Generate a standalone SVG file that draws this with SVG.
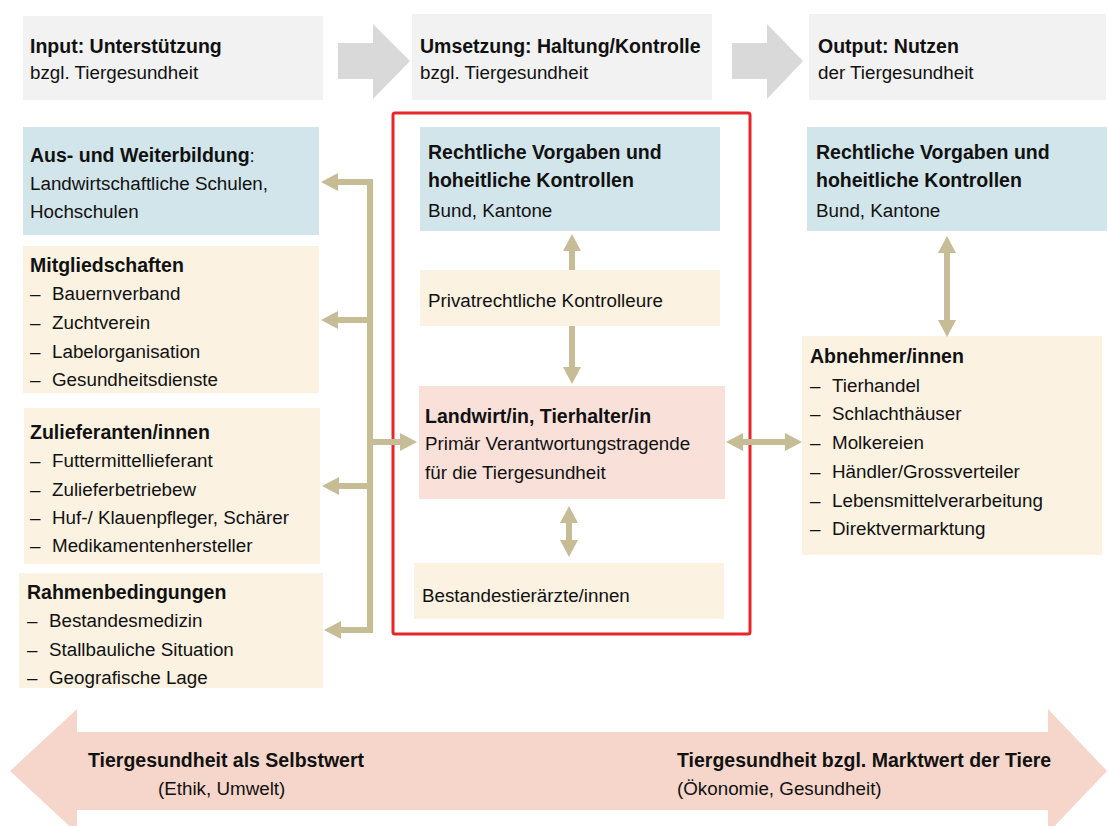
<svg xmlns="http://www.w3.org/2000/svg" width="1108" height="826" viewBox="0 0 1108 826">
<style>
text{font-family:"Liberation Sans",Arial,sans-serif;fill:#111}
.b{font-weight:bold;font-size:19.5px}
.r{font-size:18.8px}
.hdr{fill:#F2F2F2}
.blue{fill:#D2E5EA}
.beige{fill:#FBF2E1}
.pink{fill:#F9E0D9}
.garrow{fill:#D9D9D9}
.conn{fill:none;stroke:#C6BD97;stroke-width:6;stroke-linejoin:miter}
</style>
<defs>
<marker id="ah" markerUnits="userSpaceOnUse" markerWidth="18" markerHeight="18" refX="1" refY="9" orient="auto-start-reverse">
<path d="M0,0 L17,9 L0,18 z" fill="#C6BD97"/>
</marker>
</defs>
<rect width="1108" height="826" fill="#fff"/>

<g id="bottom-arrow">
<polygon points="10,771 77,709 77,732 1048,732 1048,709 1107,771 1048,833 1048,810 77,810 77,833" fill="#F6D6CA"/>
<text class="b" x="88" y="767">Tiergesundheit als Selbstwert</text>
<text class="r" x="158" y="795">(Ethik, Umwelt)</text>
<text class="b" x="677" y="767">Tiergesundheit bzgl. Marktwert der Tiere</text>
<text class="r" x="677" y="795">(Ökonomie, Gesundheit)</text>
</g>

<g id="header-input">
<rect class="hdr" x="23" y="16" width="300" height="84"/>
<text class="b" x="30" y="53">Input: Unterstützung</text>
<text class="r" x="30" y="79">bzgl. Tiergesundheit</text>
</g>
<g id="header-arrow-1"><polygon class="garrow" points="338,43 373,43 373,24 410,61 373,99 373,79 338,79"/></g>
<g id="header-umsetzung">
<rect class="hdr" x="412" y="14" width="300" height="86"/>
<text class="b" x="420" y="53">Umsetzung: Haltung/Kontrolle</text>
<text class="r" x="420" y="79">bzgl. Tiergesundheit</text>
</g>
<g id="header-arrow-2"><polygon class="garrow" points="732,43 767,43 767,24 803,61 767,99 767,79 732,79"/></g>
<g id="header-output">
<rect class="hdr" x="809" y="14" width="297" height="86"/>
<text class="b" x="818" y="53">Output: Nutzen</text>
<text class="r" x="818" y="79">der Tiergesundheit</text>
</g>

<g id="aus-weiterbildung">
<rect class="blue" x="23" y="127" width="296" height="108"/>
<text x="30" y="162"><tspan class="b">Aus- und Weiterbildung</tspan><tspan class="r">:</tspan></text>
<text class="r" x="30" y="190">Landwirtschaftliche Schulen,</text>
<text class="r" x="30" y="218">Hochschulen</text>
</g>

<g id="mitgliedschaften">
<rect class="beige" x="23" y="246" width="296" height="147"/>
<text class="b" x="30" y="272">Mitgliedschaften</text>
<text class="r" x="30" y="300">–</text><text class="r" x="52" y="300">Bauernverband</text>
<text class="r" x="30" y="329">–</text><text class="r" x="52" y="329">Zuchtverein</text>
<text class="r" x="30" y="358">–</text><text class="r" x="52" y="358">Labelorganisation</text>
<text class="r" x="30" y="386">–</text><text class="r" x="52" y="386">Gesundheitsdienste</text>
</g>

<g id="zulieferanten">
<rect class="beige" x="24" y="408" width="296" height="156"/>
<text class="b" x="30" y="439">Zulieferanten/innen</text>
<text class="r" x="30" y="467">–</text><text class="r" x="52" y="467">Futtermittellieferant</text>
<text class="r" x="30" y="496">–</text><text class="r" x="52" y="496">Zulieferbetriebew</text>
<text class="r" x="30" y="524">–</text><text class="r" x="52" y="524">Huf-/ Klauenpfleger, Schärer</text>
<text class="r" x="30" y="552">–</text><text class="r" x="52" y="552">Medikamentenhersteller</text>
</g>

<g id="rahmenbedingungen">
<rect class="beige" x="19" y="573" width="304" height="115"/>
<text class="b" x="27" y="599">Rahmenbedingungen</text>
<text class="r" x="27" y="627">–</text><text class="r" x="49" y="627">Bestandesmedizin</text>
<text class="r" x="27" y="656">–</text><text class="r" x="49" y="656">Stallbauliche Situation</text>
<text class="r" x="27" y="684">–</text><text class="r" x="49" y="684">Geografische Lage</text>
</g>

<g id="umsetzung-rahmen">
<rect x="393" y="113" width="357" height="521" rx="2" fill="none" stroke="#E8262A" stroke-width="3"/>
</g>

<g id="rechtliche-mitte">
<rect class="blue" x="420" y="127" width="300" height="104"/>
<text class="b" x="428" y="159">Rechtliche Vorgaben und</text>
<text class="b" x="428" y="187">hoheitliche Kontrollen</text>
<text class="r" x="428" y="217">Bund, Kantone</text>
</g>

<g id="privatrechtliche">
<rect class="beige" x="420" y="270" width="300" height="56"/>
<text class="r" x="428" y="307">Privatrechtliche Kontrolleure</text>
</g>

<g id="landwirt">
<rect class="pink" x="419" y="386" width="306" height="113"/>
<text class="b" x="425" y="423">Landwirt/in, Tierhalter/in</text>
<text class="r" x="425" y="450">Primär Verantwortungstragende</text>
<text class="r" x="425" y="479">für die Tiergesundheit</text>
</g>

<g id="bestandestieraerzte">
<rect class="beige" x="414" y="563" width="310" height="56"/>
<text class="r" x="422" y="602">Bestandestierärzte/innen</text>
</g>

<g id="rechtliche-rechts">
<rect class="blue" x="807" y="127" width="300" height="104"/>
<text class="b" x="816" y="159">Rechtliche Vorgaben und</text>
<text class="b" x="816" y="187">hoheitliche Kontrollen</text>
<text class="r" x="816" y="217">Bund, Kantone</text>
</g>

<g id="abnehmer">
<rect class="beige" x="802" y="336" width="300" height="219"/>
<text class="b" x="810" y="363">Abnehmer/innen</text>
<text class="r" x="810" y="392">–</text><text class="r" x="832" y="392">Tierhandel</text>
<text class="r" x="810" y="420">–</text><text class="r" x="832" y="420">Schlachthäuser</text>
<text class="r" x="810" y="449">–</text><text class="r" x="832" y="449">Molkereien</text>
<text class="r" x="810" y="478">–</text><text class="r" x="832" y="478">Händler/Grossverteiler</text>
<text class="r" x="810" y="507">–</text><text class="r" x="832" y="507">Lebensmittelverarbeitung</text>
<text class="r" x="810" y="535">–</text><text class="r" x="832" y="535">Direktvermarktung</text>
</g>

<g id="connectors">
<path class="conn" d="M370,442 V182 H337" marker-end="url(#ah)"/>
<path class="conn" d="M370,320 H337" marker-end="url(#ah)"/>
<path class="conn" d="M370,486 H338" marker-end="url(#ah)"/>
<path class="conn" d="M370,442 V630 H340" marker-end="url(#ah)"/>
<path class="conn" d="M367,442 H401" marker-end="url(#ah)"/>
<path class="conn" d="M572,270 V250" marker-end="url(#ah)"/>
<path class="conn" d="M572,326 V368" marker-end="url(#ah)"/>
<path class="conn" d="M569,522 V541" marker-start="url(#ah)" marker-end="url(#ah)"/>
<path class="conn" d="M947,252 V321" marker-start="url(#ah)" marker-end="url(#ah)"/>
<path class="conn" d="M742,442 H786" marker-start="url(#ah)" marker-end="url(#ah)"/>
</g>
</svg>
